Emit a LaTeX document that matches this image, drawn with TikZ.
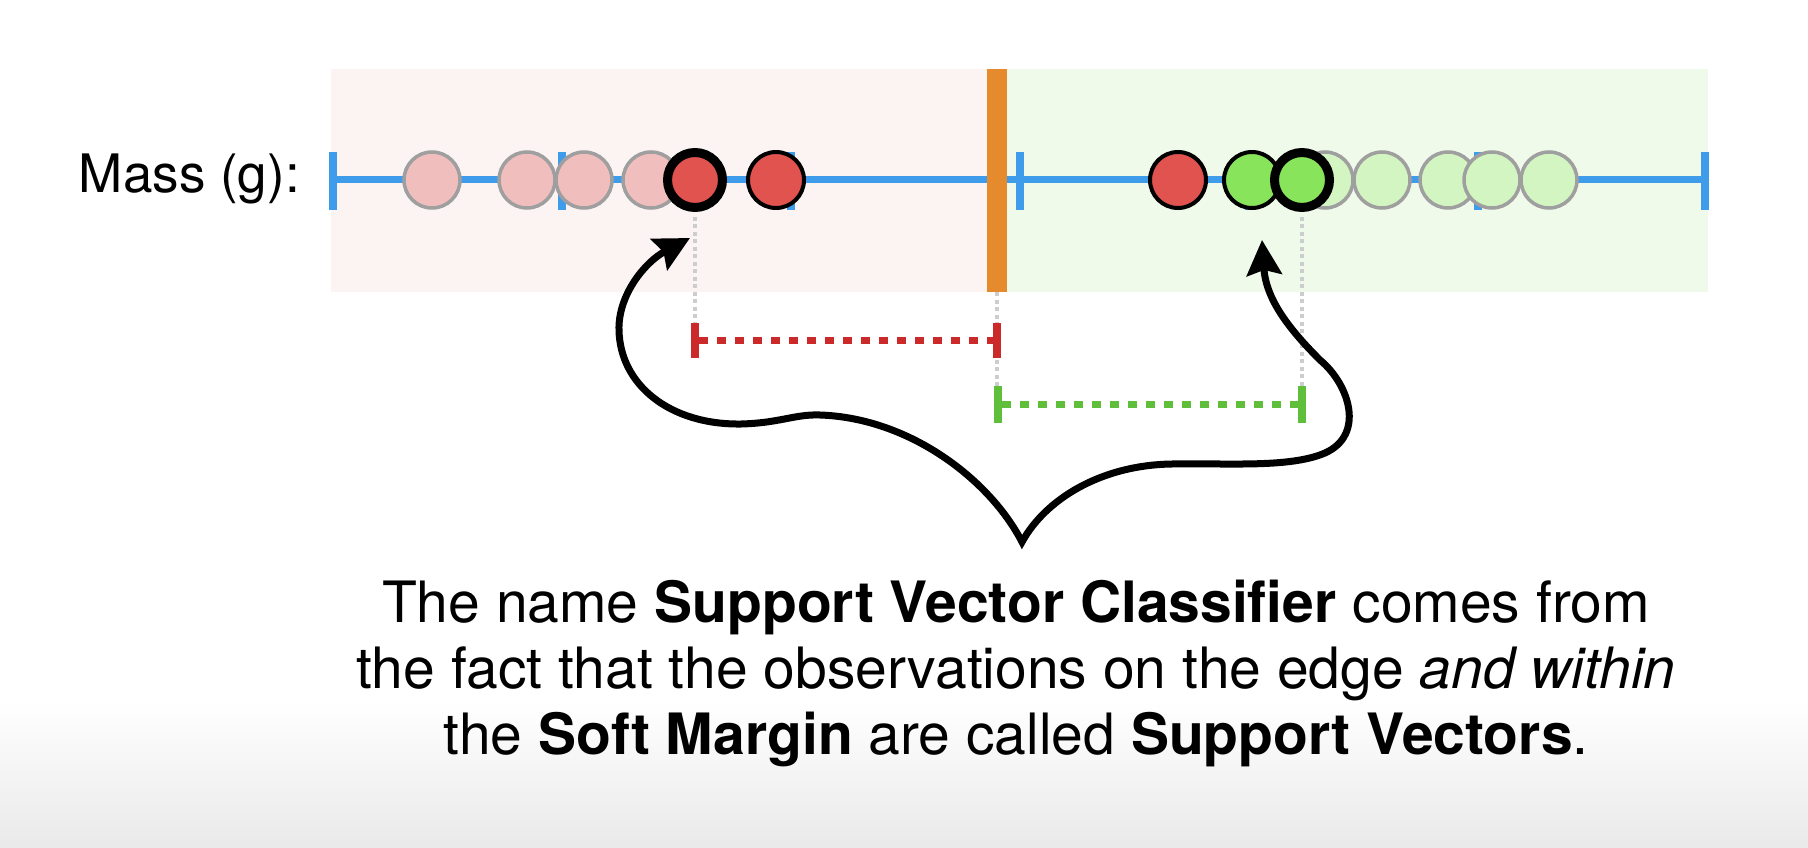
\documentclass[tikz,border=0pt]{standalone}
\usepackage{fontspec}
\setmainfont{TeX Gyre Heros}
\usetikzlibrary{arrows.meta}

\definecolor{axisblue}{HTML}{3E9CEB}
\definecolor{redpt}{HTML}{E0534E}
\definecolor{pinkpt}{HTML}{F1BEBE}
\definecolor{greenpt}{HTML}{88E45A}
\definecolor{lightgreenpt}{HTML}{D3F5C1}
\definecolor{pinkbg}{HTML}{FCF3F3}
\definecolor{greenbg}{HTML}{F0FAEA}
\definecolor{barorange}{HTML}{E68A2E}
\definecolor{marginred}{HTML}{CC2A2A}
\definecolor{margingreen}{HTML}{5FBE3A}
\definecolor{guidegrey}{HTML}{CDCDCD}

\begin{document}
\begin{tikzpicture}[x=1pt,y=-1pt,
  dot/.style={circle,inner sep=0pt,minimum size=56pt},
  faded/.style={dot,draw=gray!75,line width=3.5pt},
  obs/.style={dot,draw=black,line width=4pt},
  support/.style={dot,draw=black,line width=9pt,minimum size=55pt},
  guide/.style={guidegrey,line width=4pt,dash pattern=on 4pt off 3.5pt},
  marginline/.style={line width=7pt,dash pattern=on 9pt off 9pt},
  bigarrow/.style={line width=7pt,line join=miter,>={Stealth[length=35pt,width=35pt,inset=5pt]},<->}]

  \useasboundingbox (0,0) rectangle (1808,848);

  % Backgrounds
  \shade[top color=white,bottom color=gray!17] (0,700) rectangle (1808,848);
  \fill[pinkbg] (331,69) rectangle (987,292);
  \fill[greenbg] (1007,69) rectangle (1708,292);

  % Axis with ticks
  \draw[axisblue,line width=7pt] (333,180) -- (1705,180);
  \foreach \t in {333,562,791,1020,1249,1478,1705}
    \draw[axisblue,line width=8pt] (\t,152) -- (\t,210);

  \node[anchor=base east,inner sep=0pt,font=\fontsize{53}{60}\selectfont] (mass) at (300,193) {Mass (g):};

  % Observations
  \foreach \x [count=\i] in {432,527,584,651}
    \node[faded,fill=pinkpt] (p\i) at (\x,180) {};
  \node[support,fill=redpt] (svred) at (695,180) {};
  \node[obs,fill=redpt] (r1) at (776,180) {};
  \node[obs,fill=redpt] (r2) at (1178,180) {};
  \foreach \x [count=\i] in {1325,1382,1448,1492,1549}
    \node[faded,fill=lightgreenpt] (g\i) at (\x,180) {};
  \node[obs,fill=greenpt] (gr1) at (1252,180) {};
  \node[support,fill=greenpt] (svgreen) at (1302,180) {};

  % Threshold
  \node[fill=barorange,inner sep=0pt,minimum width=20pt,minimum height=223pt] (threshold) at (997,180.5) {};

  % Guides down to the margins
  \draw[guide,shorten <=4.5pt] (svred.south) -- (695,323);
  \draw[guide] (threshold.south) -- (997,386);
  \draw[guide,shorten <=4.5pt] (svgreen.south) -- (1302,386);

  % Soft margin, red side
  \draw[marginred,line width=8pt] (695,323) -- (695,358);
  \draw[marginred,line width=8pt] (997,323) -- (997,358);
  \draw[marginred,marginline] (699,340) -- (993,340);

  % Soft margin, green side
  \draw[margingreen,line width=8pt] (998,386) -- (998,423);
  \draw[margingreen,line width=8pt] (1302,386) -- (1302,423);
  \draw[margingreen,marginline] (1002,404) -- (1298,404);

  % Arrows to the support vectors
  \coordinate (tipL) at (690,238);
  \coordinate (apex) at (1022,542);
  \coordinate (tipR) at (1262,240);
  \draw[bigarrow] (tipL) .. controls (645,262) and (618,295) .. (619,330)
    .. controls (620,385) and (670,425) .. (741,424)
    .. controls (780,423) and (795,414) .. (820,415)
    .. controls (910,418) and (990,480) .. (apex)
    .. controls (1045,500) and (1100,465) .. (1172,464)
    .. controls (1230,463) and (1290,468) .. (1325,453)
    .. controls (1365,435) and (1350,385) .. (1320,360)
    .. controls (1290,330) and (1266,300) .. (tipR);

  % Caption
  \node[font=\fontsize{57}{66}\selectfont,align=center,inner sep=0pt] (caption) at (1016,673)
    {The name \textbf{Support Vector Classifier} comes from\\
     the fact that the observations on the edge \textit{and within}\\
     the \textbf{Soft Margin} are called \textbf{Support Vectors}.};

\end{tikzpicture}
\end{document}
